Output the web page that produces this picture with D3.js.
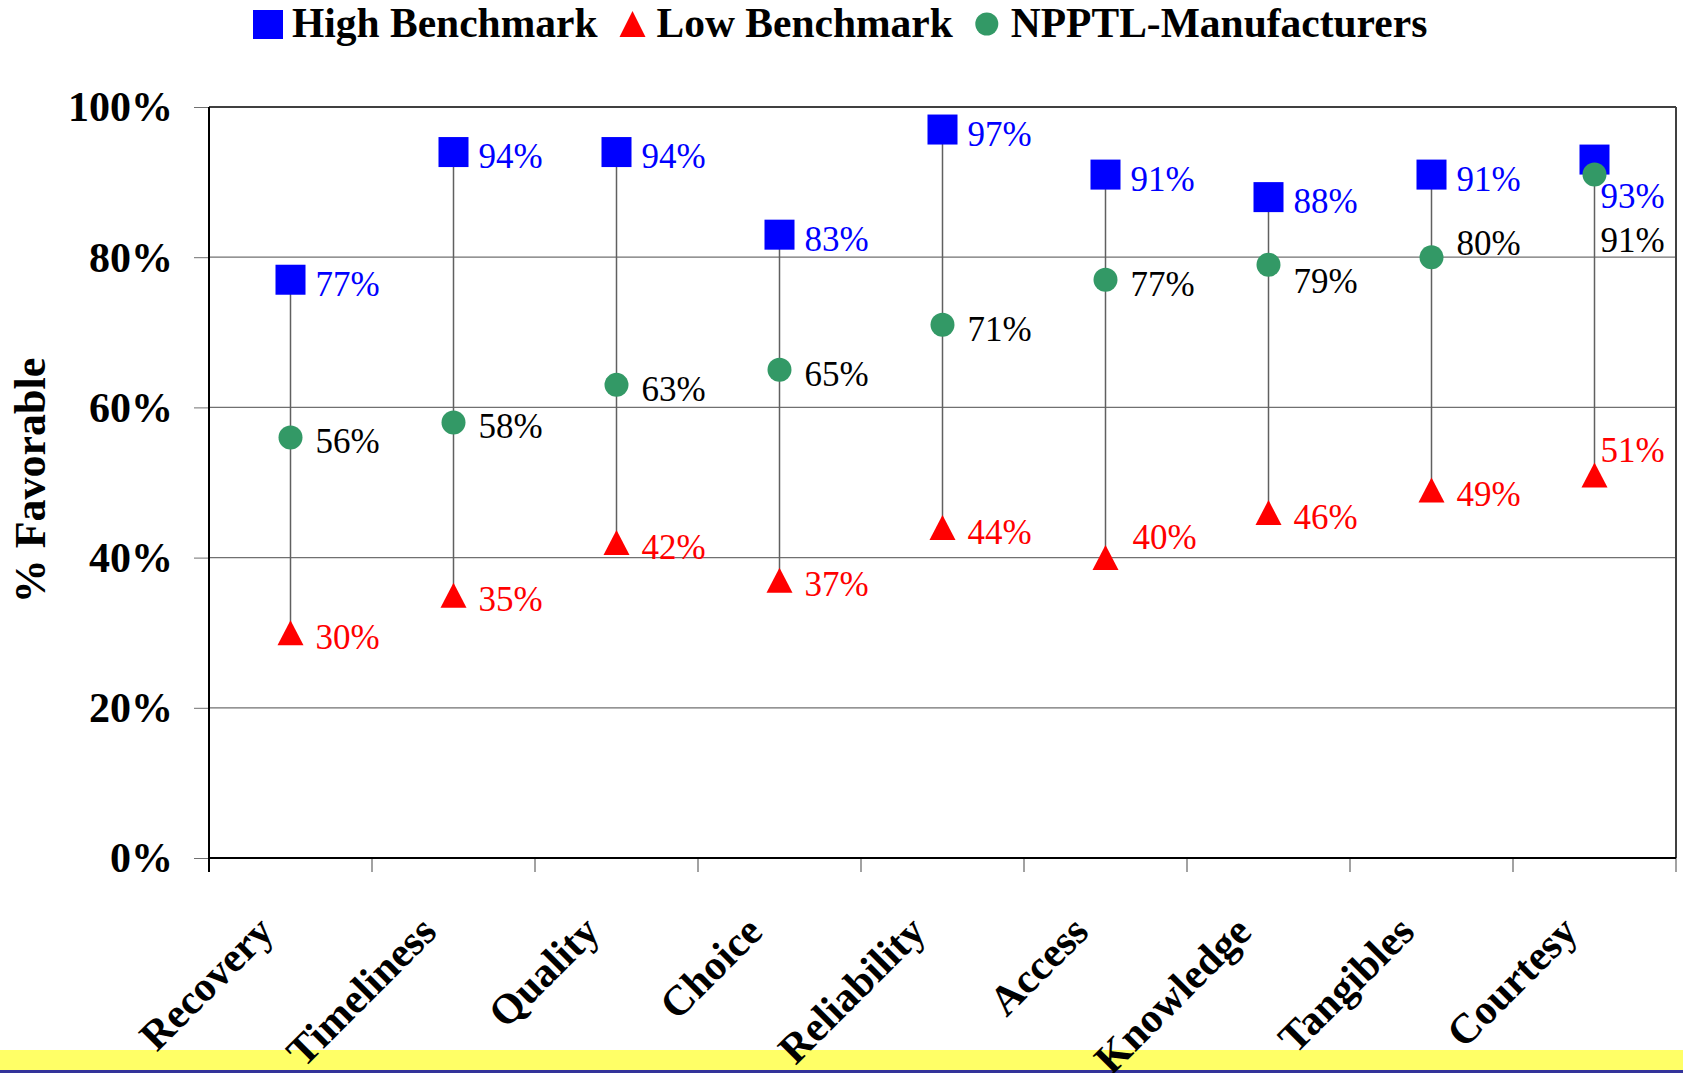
<!DOCTYPE html>
<html>
<head>
<meta charset="utf-8">
<script src="https://cdn.jsdelivr.net/npm/d3@7"></script>
<style>
  html, body { margin: 0; padding: 0; background: #fff; }
  svg { display: block; font-family: "Liberation Serif", "Times New Roman", serif; }
</style>
</head>
<body>
<script>
// chart values
const categories = ["Recovery", "Timeliness", "Quality", "Choice", "Reliability",
                    "Access", "Knowledge", "Tangibles", "Courtesy"];
const highBenchmark = [77, 94, 94, 83, 97, 91, 88, 91, 93];
const lowBenchmark  = [30, 35, 42, 37, 44, 40, 46, 49, 51];
const npptl         = [56, 58, 63, 65, 71, 77, 79, 80, 91];
const yTicks = [0, 20, 40, 60, 80, 100];
const seriesNames = ["High Benchmark", "Low Benchmark", "NPPTL-Manufacturers"];

// labels that were dragged by hand in the original: [dx, dy] from the marker centre
const labelMoves = {
    high: { Courtesy: [6, 48] },
    low: { Access: [27, -9], Courtesy: [6, -13] },
    npptl: { Knowledge: [25, 28], Tangibles: [25, -2], Courtesy: [6, 77] }
};

const W = 1683, H = 1073;
const plot = { left: 209, right: 1676, top: 107, bottom: 858 };

const svg = d3.select("body").append("svg")
    .attr("width", W)
    .attr("height", H);

const x = d3.scaleBand()
    .domain(categories)
    .range([plot.left, plot.right]);

const y = d3.scaleLinear()
    .domain([0, 100])
    .range([plot.bottom, plot.top]);

const cx = c => x(c) + x.bandwidth() / 2;

// bottom bands
svg.append("rect").attr("x", 0).attr("y", 1050).attr("width", W).attr("height", 20).attr("fill", "#ffff66");
svg.append("rect").attr("x", 0).attr("y", 1070).attr("width", W).attr("height", 3).attr("fill", "#333399");

// gridlines + y axis
const yAxis = d3.axisLeft(y)
    .tickValues(yTicks)
    .tickSize(15)
    .tickFormat(d => d + "%");

const gy = svg.append("g")
    .attr("transform", `translate(${plot.left},0)`)
    .call(yAxis);
gy.select(".domain").remove();
gy.selectAll(".tick line").attr("stroke", "#707070");
gy.selectAll(".tick text")
    .attr("x", -36)
    .attr("dy", "0.33em")
    .style("font-family", "Liberation Serif")
    .style("font-weight", "bold")
    .style("font-size", "42px")
    .attr("fill", "#000");

svg.append("g")
    .selectAll("line")
    .data(yTicks.filter(d => d > 0 && d < 100))
    .enter().append("line")
    .attr("x1", plot.left)
    .attr("x2", plot.right)
    .attr("y1", d => y(d))
    .attr("y2", d => y(d))
    .attr("stroke", "#707070")
    .attr("stroke-width", 1.3);

// plot frame
svg.append("line").attr("x1", plot.left).attr("x2", plot.right)
    .attr("y1", y(100)).attr("y2", y(100))
    .attr("stroke", "#404040").attr("stroke-width", 2);
svg.append("line").attr("x1", plot.right).attr("x2", plot.right)
    .attr("y1", y(100)).attr("y2", y(0))
    .attr("stroke", "#404040").attr("stroke-width", 2);
svg.append("line").attr("x1", plot.left).attr("x2", plot.left)
    .attr("y1", y(100)).attr("y2", y(0) + 14)
    .attr("stroke", "#000").attr("stroke-width", 2);

// x axis with ticks at the category boundaries
const bounds = categories.map(c => x(c)).concat([x.range()[1]]);
svg.append("g")
    .selectAll("line")
    .data(bounds.slice(1))
    .enter().append("line")
    .attr("x1", d => d).attr("x2", d => d)
    .attr("y1", y(0)).attr("y2", y(0) + 14)
    .attr("stroke", "#707070").attr("stroke-width", 1.3);
svg.append("line").attr("x1", plot.left).attr("x2", plot.right)
    .attr("y1", y(0)).attr("y2", y(0))
    .attr("stroke", "#000").attr("stroke-width", 2);

svg.append("g")
    .selectAll("text")
    .data(categories)
    .enter().append("text")
    .attr("transform", d => `translate(${cx(d) - 15},${934}) rotate(-45)`)
    .attr("text-anchor", "end")
    .style("font-weight", "bold")
    .style("font-size", "42px")
    .text(d => d);

// y title
svg.append("text")
    .attr("transform", `translate(45,${(plot.top + plot.bottom) / 2 - 2}) rotate(-90)`)
    .attr("text-anchor", "middle")
    .style("font-weight", "bold")
    .style("font-size", "44px")
    .text("% Favorable");

// high-low lines
svg.append("g")
    .selectAll("line")
    .data(categories)
    .enter().append("line")
    .attr("x1", d => cx(d)).attr("x2", d => cx(d))
    .attr("y1", (d, i) => y(highBenchmark[i]))
    .attr("y2", (d, i) => y(lowBenchmark[i]))
    .attr("stroke", "#606060")
    .attr("stroke-width", 1.5);

// markers
svg.append("g")
    .selectAll("rect")
    .data(categories)
    .enter().append("rect")
    .attr("x", d => cx(d) - 15)
    .attr("y", (d, i) => y(highBenchmark[i]) - 15)
    .attr("width", 30).attr("height", 30)
    .attr("fill", "#0000ff");

const tri = (px, py, w, h) => `M${px},${py - h / 2}L${px + w / 2},${py + h / 2}L${px - w / 2},${py + h / 2}Z`;

svg.append("g")
    .selectAll("path")
    .data(categories)
    .enter().append("path")
    .attr("d", (d, i) => tri(cx(d), y(lowBenchmark[i]), 26, 25))
    .attr("fill", "#ff0000");

svg.append("g")
    .selectAll("circle")
    .data(categories)
    .enter().append("circle")
    .attr("cx", d => cx(d))
    .attr("cy", (d, i) => y(npptl[i]))
    .attr("r", 12)
    .attr("fill", "#339966");

// value labels
function addLabels(values, color, moves) {
    const off = d => moves[d] || [25, 16];
    svg.append("g")
        .selectAll("text")
        .data(categories)
        .enter().append("text")
        .attr("x", d => cx(d) + off(d)[0])
        .attr("y", (d, i) => y(values[i]) + off(d)[1])
        .attr("fill", color)
        .style("font-size", "35px")
        .text((d, i) => values[i] + "%");
}
addLabels(highBenchmark, "#0000ff", labelMoves.high);
addLabels(lowBenchmark, "#ff0000", labelMoves.low);
addLabels(npptl, "#000000", labelMoves.npptl);

// legend
const legend = svg.append("g");
let lx = 253;
seriesNames.forEach((name, i) => {
    if (i === 0) {
        legend.append("rect").attr("x", lx).attr("y", 10).attr("width", 30).attr("height", 29).attr("fill", "#0000ff");
        lx += 39;
    } else if (i === 1) {
        legend.append("path").attr("d", tri(lx + 13, 24, 26, 26)).attr("fill", "#ff0000");
        lx += 37;
    } else {
        legend.append("circle").attr("cx", lx + 12).attr("cy", 24).attr("r", 11.5).attr("fill", "#339966");
        lx += 36;
    }
    const t = legend.append("text")
        .attr("x", lx)
        .attr("y", 37)
        .style("font-weight", "bold")
        .style("font-size", "41.5px")
        .text(name);
    lx += t.node().getComputedTextLength() + 22;
});
</script>
</body>
</html>
